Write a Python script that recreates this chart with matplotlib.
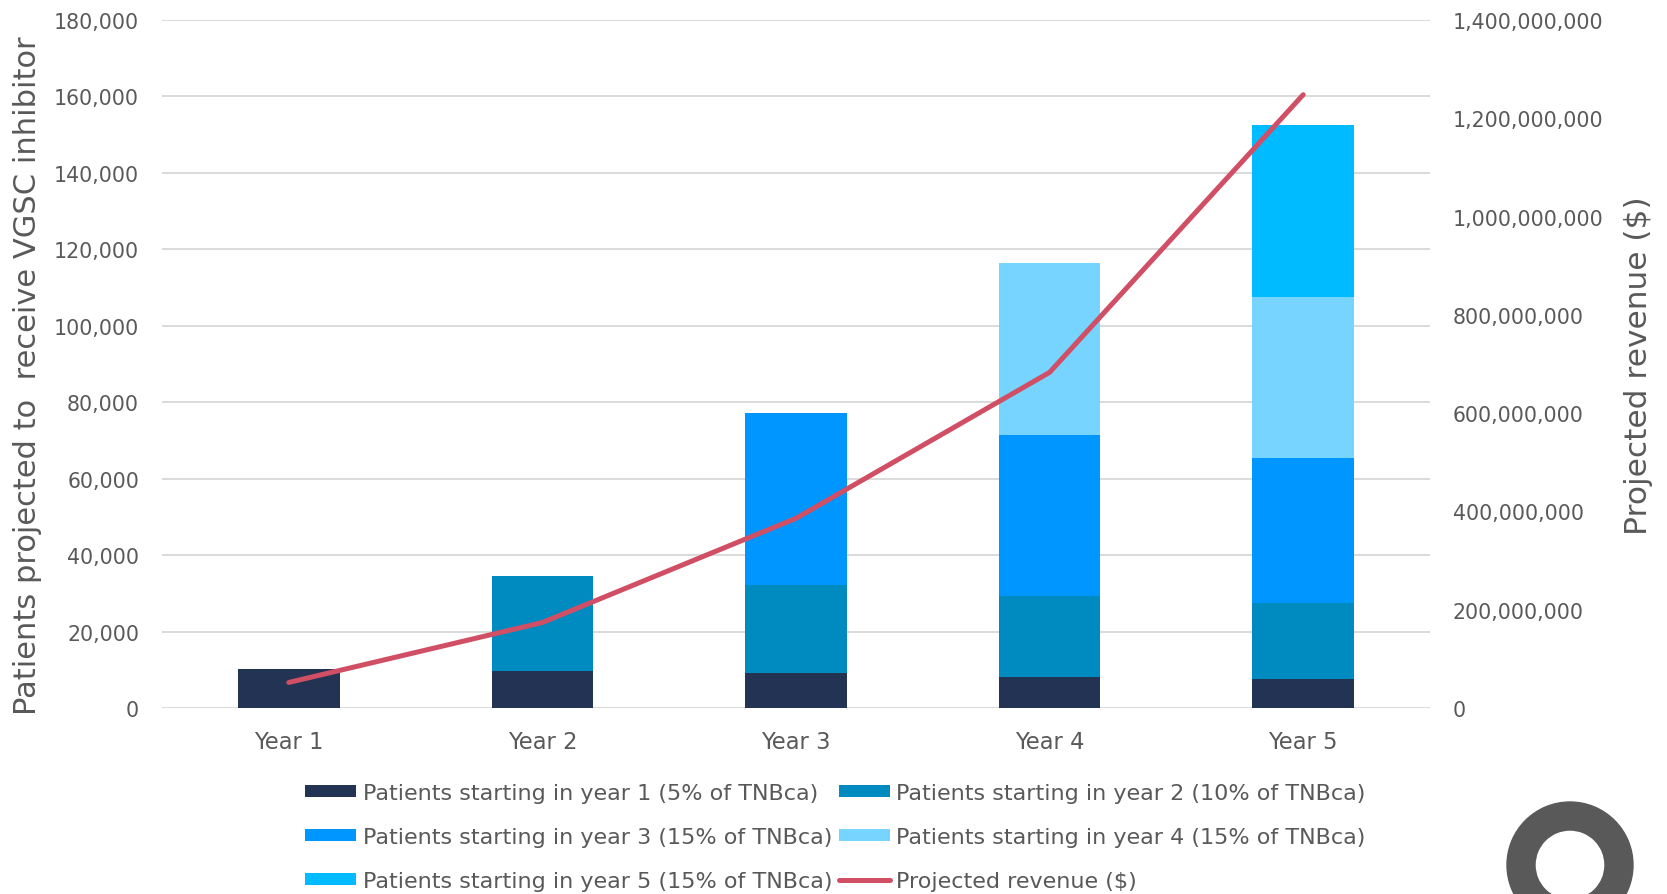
import numpy as np
import matplotlib
matplotlib.use('Agg')
import matplotlib.pyplot as plt
from matplotlib.patches import Wedge

years = ['Year 1', 'Year 2', 'Year 3', 'Year 4', 'Year 5']

# patients on treatment in each year, split by the year they started
start_y1 = [10200, 9600, 9100, 8100, 7500]
start_y2 = [0, 24900, 23000, 21200, 19900]
start_y3 = [0, 0, 45000, 42000, 37900]
start_y4 = [0, 0, 0, 45100, 42200]
start_y5 = [0, 0, 0, 0, 45100]

revenue = [52e6, 174e6, 386e6, 683e6, 1248e6]

cohort_labels = [
    'Patients starting in year 1 (5% of TNBca)',
    'Patients starting in year 2 (10% of TNBca)',
    'Patients starting in year 3 (15% of TNBca)',
    'Patients starting in year 4 (15% of TNBca)',
    'Patients starting in year 5 (15% of TNBca)',
]
revenue_label = 'Projected revenue ($)'

colors = ['#223354', '#008BC0', '#0096FF', '#77D4FF', '#00BBFF']
line_color = '#D14F64'
text_color = '#595959'

fig = plt.figure(figsize=(16.67, 8.95), dpi=100)
ax = fig.add_axes([162/1667, 1-709/895, 1268/1667, 688/895])

x = np.arange(len(years))
bottom = np.zeros(len(years))
bars = []
for vals, c in zip([start_y1, start_y2, start_y3, start_y4, start_y5], colors):
    b = ax.bar(x, vals, width=0.4, bottom=bottom, color=c, zorder=2)
    bars.append(b)
    bottom += np.array(vals)

ax.set_xlim(-0.5, 4.5)
ax.set_ylim(0, 180000)
ax.set_yticks(np.arange(0, 180001, 20000))
ax.yaxis.set_major_formatter(matplotlib.ticker.FuncFormatter(lambda v, p: f'{int(v):,}'))
ax.set_xticks(x)
ax.set_xticklabels(years)
ax.grid(axis='y', color='#DADADA', linewidth=1.4, zorder=0)
ax.set_axisbelow(True)
for s in ax.spines.values():
    s.set_visible(False)
ax.tick_params(axis='y', length=0, pad=16.5, labelsize=14.8, labelcolor=text_color)
ax.tick_params(axis='x', length=0, pad=16, labelsize=16.3, labelcolor=text_color)

ax2 = ax.twinx()
line, = ax2.plot(x, revenue, color=line_color, linewidth=3.6, solid_capstyle='round', zorder=3)
ax2.set_ylim(0, 1400e6)
ax2.set_yticks(np.arange(0, 1400e6 + 1, 200e6))
ax2.yaxis.set_major_formatter(matplotlib.ticker.FuncFormatter(lambda v, p: f'{int(v):,}'))
for s in ax2.spines.values():
    s.set_visible(False)
ax2.tick_params(axis='y', length=0, pad=16.5, labelsize=14.8, labelcolor=text_color)

fig.text(27.5/1667, 1-376/895, 'Patients projected to  receive VGSC inhibitor',
         rotation=90, ha='center', va='center', fontsize=22, color=text_color)
fig.text(1638/1667, 1-366/895, 'Projected revenue ($)',
         rotation=90, ha='center', va='center', fontsize=22.5, color=text_color)

# legend filled row by row
handles = [bars[0], bars[2], bars[4], bars[1], bars[3], line]
labels = [cohort_labels[0], cohort_labels[2], cohort_labels[4],
          cohort_labels[1], cohort_labels[3], revenue_label]
leg = fig.legend(handles, labels, ncol=2, loc='upper left',
                 bbox_to_anchor=(305/1667, 1-784/895), frameon=False,
                 borderpad=0, borderaxespad=0, handlelength=2.3, handleheight=0.45,
                 handletextpad=0.3, columnspacing=0.28, labelspacing=1.07,
                 prop={'size': 16})
for t in leg.get_texts():
    t.set_color(text_color)

# ring mark in the lower right corner
deco = fig.add_axes([0, 0, 1, 1], zorder=-1)
deco.set_xlim(0, 1667)
deco.set_ylim(895, 0)
deco.axis('off')
deco.add_patch(Wedge((1570, 866), 63, 0, 360, width=28, color='#595959'))

fig.savefig('out.png', dpi=100)
